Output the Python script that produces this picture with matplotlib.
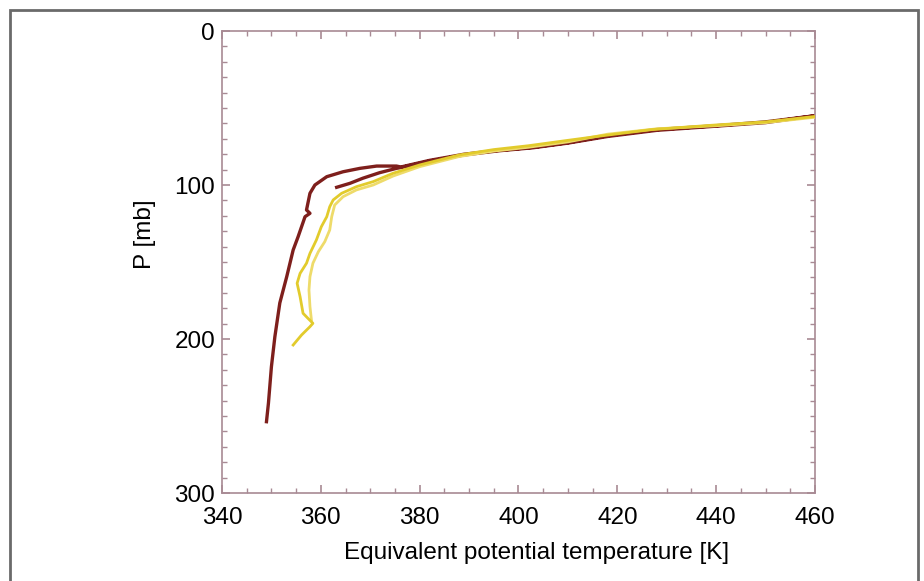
import matplotlib
matplotlib.use('Agg')
import matplotlib.pyplot as plt
from matplotlib.patches import Rectangle
from matplotlib.ticker import MultipleLocator

plt.rcParams['font.family'] = ['Liberation Sans', 'DejaVu Sans']

# red profile: ascent from the bottom, out along the main branch, back in to the inner arc
red_t = [349.0, 349.4, 350.0, 350.7, 351.7, 353.1, 354.4, 355.4, 356.8, 357.8, 357.1, 357.8,
         358.8, 361.2, 364.5, 367.9, 371.3, 375.3, 376.2, 382.0, 389.0, 396.0, 403.0, 410.0,
         418.0, 428.0, 440.0, 450.0, 460.0,
         450.0, 440.0, 428.0, 418.0, 410.0, 403.0, 396.0, 389.0, 382.0, 376.0,
         375.3, 371.9, 368.5, 365.9, 363.2]
red_p = [253.7, 241.6, 218.0, 198.5, 176.6, 159.5, 142.2, 133.6, 120.6, 118.4, 116.2, 105.4,
         100.0, 94.6, 91.4, 89.2, 87.7, 87.7, 88.3, 84.0, 80.0, 77.5, 75.5, 72.5,
         68.0, 64.0, 61.5, 59.0, 55.0,
         59.5, 61.8, 64.5, 68.5, 72.8, 75.8, 77.8, 80.5, 84.5, 88.8,
         89.2, 92.0, 95.6, 98.9, 101.5]

# yellow profile, first leg
yel1_t = [354.4, 356.1, 357.8, 358.4, 357.4, 356.4, 355.8, 355.2, 355.8, 357.1, 357.8, 359.1,
          360.1, 361.2, 361.8, 362.5, 364.2, 367.2, 370.6, 374.6, 380.0, 388.0, 395.0, 402.0,
          410.0, 417.0, 427.0, 440.0, 450.0, 460.0]
yel1_p = [203.9, 197.4, 192.0, 189.8, 186.6, 183.3, 172.5, 163.8, 157.4, 150.8, 144.4, 135.7,
          127.1, 120.6, 114.1, 109.7, 105.4, 101.1, 97.8, 92.4, 87.0, 80.5, 77.0, 74.5,
          71.0, 68.0, 64.0, 61.0, 59.0, 55.5]

# yellow profile, second leg
yel2_t = [460.0, 450.0, 440.0, 428.0, 418.0, 410.0, 402.0, 395.0, 388.0, 380.0, 374.6, 370.6,
          367.2, 364.5, 362.8, 362.2, 361.8, 360.8, 359.5, 358.4, 357.8, 357.6, 357.8, 358.1]
yel2_p = [56.0, 59.5, 61.5, 63.5, 67.0, 72.0, 75.5, 78.0, 81.5, 88.1, 94.2, 100.0,
          103.2, 107.6, 113.0, 120.6, 129.2, 136.8, 143.3, 150.8, 159.5, 168.2, 179.0, 187.7]

fig = plt.figure(figsize=(9.24, 5.81), dpi=100)
ax = fig.add_axes([222 / 924, 88 / 581, 593 / 924, 462 / 581])

ax.plot(red_t, red_p, color='#7E1F1C', lw=2.4, zorder=2)
ax.plot(yel2_t, yel2_p, color='#EEDB6A', lw=2.0, zorder=3)
ax.plot(yel1_t, yel1_p, color='#E2CB2C', lw=2.0, zorder=4)

ax.set_xlim(340, 460)
ax.set_ylim(300, 0)
ax.xaxis.set_major_locator(MultipleLocator(20))
ax.xaxis.set_minor_locator(MultipleLocator(5))
ax.yaxis.set_major_locator(MultipleLocator(100))
ax.yaxis.set_minor_locator(MultipleLocator(10))

spine_col = '#A88A94'
for s in ax.spines.values():
    s.set_color(spine_col)
    s.set_linewidth(1.2)
ax.tick_params(which='both', direction='in', top=True, right=True, color=spine_col,
               labelsize=17.5, labelcolor='black')
ax.tick_params(which='major', length=6, width=1.2)
ax.tick_params(which='minor', length=3.5, width=1.0)
ax.tick_params(axis='x', pad=10)
ax.tick_params(axis='y', pad=5)

ax.set_xlabel('Equivalent potential temperature [K]', fontsize=17.5)
ax.set_ylabel('P [mb]', fontsize=17.5)
ax.xaxis.set_label_coords(0.531, -0.107)
ax.yaxis.set_label_coords(-0.112, 0.56)

fig.patches.append(Rectangle((10 / 924, -0.02), 908 / 924, 1.02 - 9.5 / 581,
                             transform=fig.transFigure, fill=False,
                             edgecolor='#6A6A6A', lw=2))

fig.savefig('out.png', dpi=100)
